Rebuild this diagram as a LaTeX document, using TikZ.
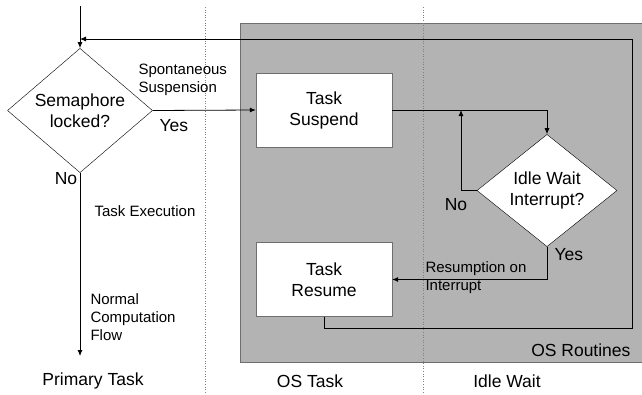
\documentclass[tikz,border=0pt]{standalone}
\usepackage{fontspec}
\setmainfont{Liberation Sans}
\usetikzlibrary{shapes.geometric,arrows.meta}
\definecolor{osgrey}{RGB}{179,179,179}
\definecolor{osedge}{RGB}{110,110,110}
\tikzset{
  bigtext/.style={font=\fontsize{17.5}{21}\selectfont},
  smalltext/.style={font=\fontsize{15}{18}\selectfont},
  procbox/.style={draw=osedge, fill=white, minimum width=136pt, minimum height=74pt, inner sep=0pt, align=center, bigtext},
  decision/.style={draw=black, fill=white, diamond, inner sep=0pt, align=center, bigtext},
  flow/.style={draw=black, line width=0.8pt},
  arrowflow/.style={flow, -{Latex[length=6pt,width=5pt]}},
  lane/.style={draw=gray, dotted, line width=0.6pt},
}
\begin{document}
\begin{tikzpicture}[x=1pt,y=-1pt]
\useasboundingbox (0,0) rectangle (642,394);

% OS routines region
\draw[osedge, fill=osgrey, line width=0.6pt] (240,23) rectangle (644,362);

% swim-lane separators
\draw[lane] (205,7) -- (205,394);
\draw[lane] (423,7) -- (423,394);

% decisions and processes
\node[decision, minimum width=145pt, minimum height=101pt] (sem) at (80,110.5) {Semaphore\\locked?};
\node[procbox] (suspend) at (324,110) {Task\\Suspend};
\node[decision, minimum width=140pt, minimum height=101pt] (idle) at (547,190.5) {Idle Wait\\Interrupt?};
\node[procbox] (resume) at (324,279.5) {Task\\Resume};

% free ends and bend points
\coordinate (start) at (80,6);
\coordinate (endflow) at (80,356);
\coordinate (join) at (80,39);
\coordinate (fb1) at (324,328);
\coordinate (fb2) at (632,328);
\coordinate (fb3) at (632,39);
\coordinate (sj) at (547,110);
\coordinate (nl) at (461,190.5);
\coordinate (nt) at (461,110);
\coordinate (yb) at (547,279.5);

% connectors
\draw[arrowflow] (start) -- (sem.north);
\draw[arrowflow] (sem.south) -- (endflow);
\draw[arrowflow] (sem.east) -- (suspend.west);
\draw[arrowflow] (suspend.east) -- (sj) -- (idle.north);
\draw[arrowflow] (idle.west) -- (nl) -- (nt);
\draw[arrowflow] (idle.south) -- (yb) -- (resume.east);
\draw[arrowflow] (resume.south) -- (fb1) -- (fb2) -- (fb3) -- (join);

% labels
\node[smalltext, anchor=west, align=left] (lspont) at (135,80) {Spontaneous\\Suspension};
\node[bigtext, anchor=west] (lyes1) at (156,126) {Yes};
\node[bigtext] (lno1) at (66,179) {No};
\node[smalltext, anchor=west] (lexec) at (91,211) {Task Execution};
\node[smalltext, anchor=west, align=left] (lnorm) at (87,317) {Normal\\Computation\\Flow};
\node[bigtext] (lno2) at (456,205) {No};
\node[bigtext, anchor=west] (lyes2) at (551,255) {Yes};
\node[smalltext, anchor=west, align=left] (lresum) at (422,278) {Resumption on\\Interrupt};
\node[bigtext, anchor=east] (lrout) at (634,350) {OS Routines};
\node[bigtext] (lprim) at (93,381) {Primary Task};
\node[bigtext] (lostask) at (310,381) {OS Task};
\node[bigtext] (lidle) at (507,381) {Idle Wait};
\end{tikzpicture}
\end{document}
